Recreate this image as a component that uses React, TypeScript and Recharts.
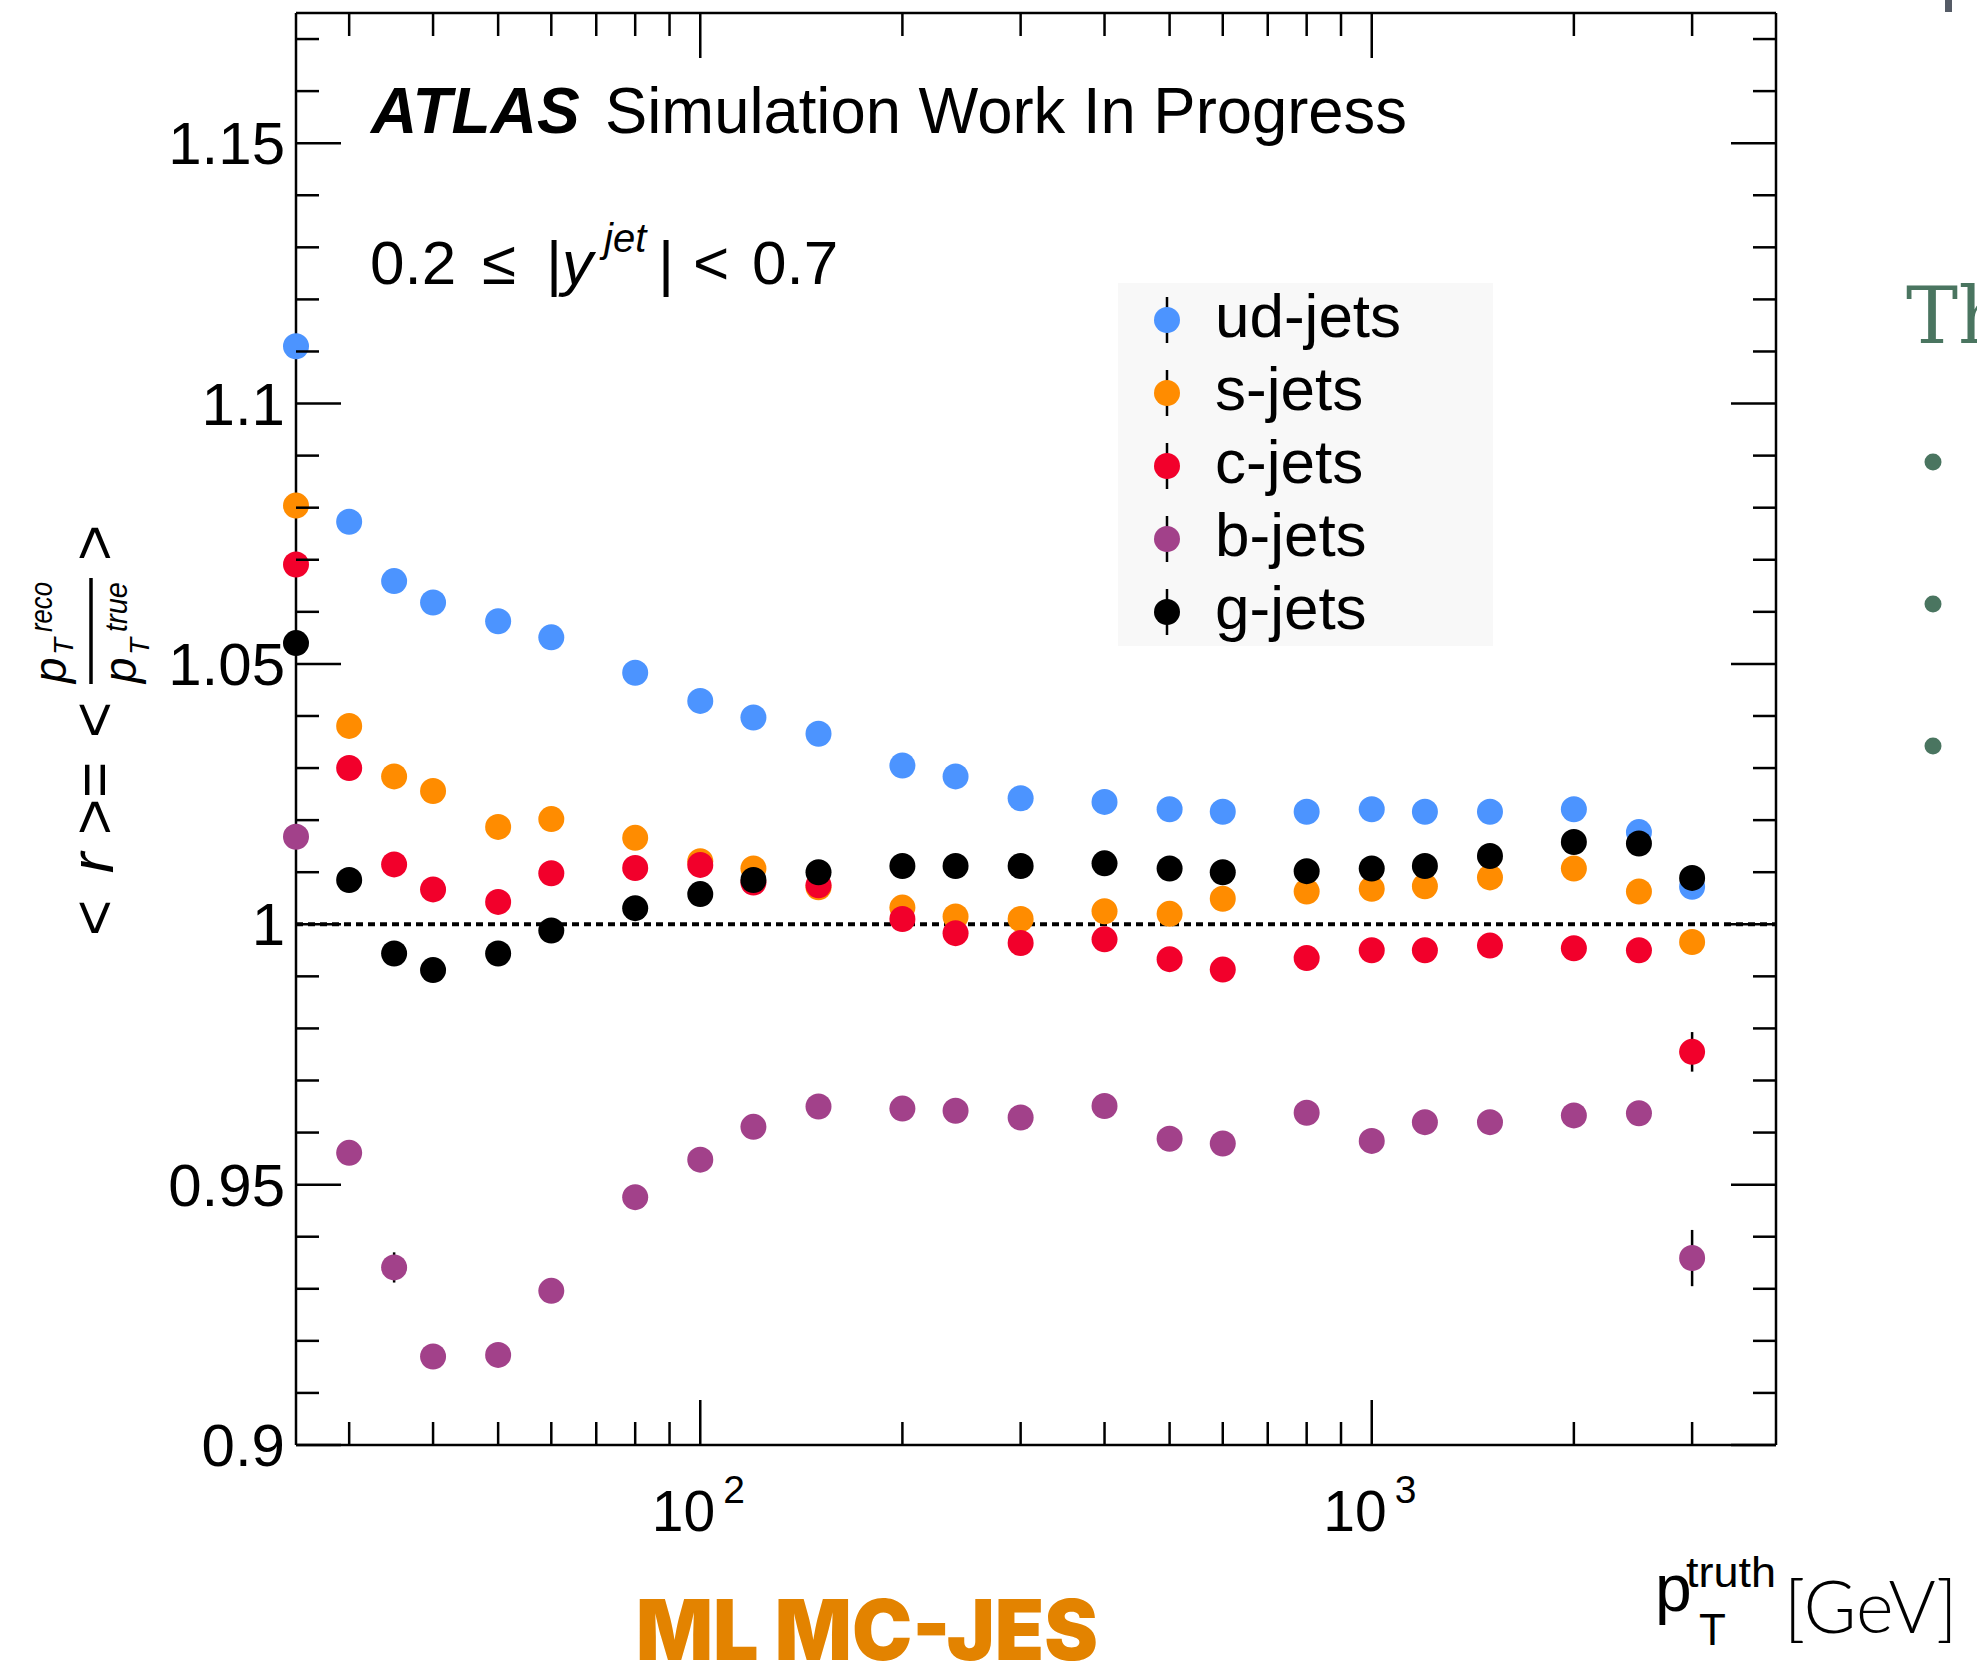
import React from 'react';
import { ScatterChart, Scatter, XAxis, YAxis, ReferenceLine, ErrorBar, Legend } from 'recharts';

// pT^truth bin centres [GeV]
const ptBins = [25, 30, 35, 40, 50, 60, 80, 100, 120, 150, 200, 240, 300, 400, 500, 600, 800, 1000, 1200, 1500, 2000, 2500, 3000];

// mean response <r> per jet flavour
const udJets = [1.111, 1.0773, 1.0659, 1.0618, 1.0582, 1.0551, 1.0483, 1.0429, 1.0397, 1.0366, 1.0305, 1.0284, 1.0242, 1.0235, 1.0221, 1.0216, 1.0216, 1.0221, 1.0216, 1.0216, 1.0221, 1.0177, 1.0072];
const sJets = [1.0804, 1.0381, 1.0284, 1.0256, 1.0187, 1.0202, 1.0166, 1.0121, 1.0107, 1.0071, 1.0032, 1.0015, 1.001, 1.0025, 1.002, 1.0049, 1.0063, 1.0068, 1.0073, 1.009, 1.0107, 1.0063, 0.9966];
const cJets = [1.0691, 1.03, 1.0115, 1.0067, 1.0043, 1.0098, 1.0108, 1.0114, 1.008, 1.0075, 1.001, 0.9983, 0.9964, 0.9971, 0.9933, 0.9913, 0.9935, 0.995, 0.995, 0.9959, 0.9954, 0.995, 0.9755];
const bJets = [1.0168, 0.9561, 0.9341, 0.917, 0.9173, 0.9296, 0.9476, 0.9548, 0.9611, 0.965, 0.9646, 0.9642, 0.9629, 0.9651, 0.9588, 0.9579, 0.9638, 0.9584, 0.962, 0.962, 0.9633, 0.9637, 0.9359];
const gJets = [1.054, 1.0085, 0.9944, 0.9912, 0.9944, 0.9988, 1.0031, 1.0058, 1.0085, 1.01, 1.0112, 1.0112, 1.0112, 1.0117, 1.0107, 1.01, 1.0102, 1.0107, 1.0112, 1.0131, 1.0158, 1.0155, 1.0089];

// statistical uncertainties
const udErr = [0.001, 0.0008, 0.0008, 0.0008, 0.0008, 0.0008, 0.0008, 0.0008, 0.0008, 0.0008, 0.0008, 0.0008, 0.0008, 0.0008, 0.0008, 0.0008, 0.0008, 0.0008, 0.0008, 0.001, 0.001, 0.0012, 0.002];
const sErr = [0.0015, 0.001, 0.001, 0.001, 0.001, 0.001, 0.001, 0.001, 0.001, 0.001, 0.001, 0.001, 0.001, 0.001, 0.001, 0.001, 0.001, 0.001, 0.001, 0.0012, 0.0012, 0.0015, 0.002];
const cErr = [0.0015, 0.001, 0.001, 0.001, 0.001, 0.001, 0.001, 0.001, 0.001, 0.001, 0.001, 0.001, 0.001, 0.001, 0.001, 0.001, 0.001, 0.001, 0.001, 0.0012, 0.0015, 0.002, 0.0038];
const bErr = [0.002, 0.0015, 0.0029, 0.0015, 0.0012, 0.0012, 0.001, 0.001, 0.001, 0.001, 0.001, 0.001, 0.001, 0.001, 0.001, 0.001, 0.001, 0.001, 0.0012, 0.0012, 0.0015, 0.002, 0.0054];
const gErr = [0.0015, 0.001, 0.001, 0.001, 0.001, 0.001, 0.001, 0.001, 0.001, 0.001, 0.001, 0.001, 0.001, 0.001, 0.001, 0.001, 0.001, 0.001, 0.001, 0.001, 0.0012, 0.0015, 0.002];

const jetNames = ['ud-jets', 's-jets', 'c-jets', 'b-jets', 'g-jets'];
const jetColors = ['#4c94ff', '#ff8c00', '#f2002b', '#a2418a', '#000000'];

const xMajorTicks = [100, 1000];
const xTicks = [30, 40, 50, 60, 70, 80, 90, 100, 200, 300, 400, 500, 600, 700, 800, 900, 1000, 2000, 3000];
const yMajorTicks = [0.9, 0.95, 1, 1.05, 1.1, 1.15];
const yTicks = [
  0.9, 0.91, 0.92, 0.93, 0.94, 0.95, 0.96, 0.97, 0.98, 0.99, 1, 1.01, 1.02, 1.03, 1.04,
  1.05, 1.06, 1.07, 1.08, 1.09, 1.1, 1.11, 1.12, 1.13, 1.14, 1.15, 1.16, 1.17,
];

const W = 1977;
const H = 1665;
const FONT = '"Liberation Sans", Arial, Helvetica, sans-serif';
const MAJOR = 45;
const MINOR = 23;
const axisStyle = { stroke: '#000', strokeWidth: 2.5 };

const series = [
  { name: jetNames[0], values: udJets, errors: udErr, color: jetColors[0] },
  { name: jetNames[1], values: sJets, errors: sErr, color: jetColors[1] },
  { name: jetNames[2], values: cJets, errors: cErr, color: jetColors[2] },
  { name: jetNames[3], values: bJets, errors: bErr, color: jetColors[3] },
  { name: jetNames[4], values: gJets, errors: gErr, color: jetColors[4] },
];

const toPoints = (values: number[], errors: number[]) =>
  ptBins.map((pt, i) => ({ x: pt, y: values[i], err: errors[i] }));

const isMajor = (v: number, list: number[]) => list.some((m) => Math.abs(m - v) < 1e-9);

// ROOT-style ticks: drawn inside the frame
function LeftTick(props: any) {
  const { x, y, payload } = props;
  const major = isMajor(payload.value, yMajorTicks);
  return (
    <g>
      <line x1={x} x2={x + (major ? MAJOR : MINOR)} y1={y} y2={y} stroke="#000" strokeWidth={2.5} />
      {major && (
        <text x={x - 11} y={y + 21} textAnchor="end" fontSize={60} fontFamily={FONT} fill="#000">
          {String(payload.value)}
        </text>
      )}
    </g>
  );
}

function RightTick(props: any) {
  const { x, y, payload } = props;
  const len = isMajor(payload.value, yMajorTicks) ? MAJOR : MINOR;
  return <line x1={x} x2={x - len} y1={y} y2={y} stroke="#000" strokeWidth={2.5} />;
}

function BottomTick(props: any) {
  const { x, y, payload } = props;
  const major = isMajor(payload.value, xMajorTicks);
  const exp = Math.round(Math.log10(payload.value));
  return (
    <g>
      <line x1={x} x2={x} y1={y} y2={y - (major ? MAJOR : MINOR)} stroke="#000" strokeWidth={2.5} />
      {major && (
        <g fontFamily={FONT} fill="#000">
          <text x={x + 15} y={y + 86} textAnchor="end" fontSize={57}>10</text>
          <text x={x + 23} y={y + 58} fontSize={39}>{exp}</text>
        </g>
      )}
    </g>
  );
}

function TopTick(props: any) {
  const { x, y, payload } = props;
  const len = isMajor(payload.value, xMajorTicks) ? MAJOR : MINOR;
  return <line x1={x} x2={x} y1={y} y2={y + len} stroke="#000" strokeWidth={2.5} />;
}

const renderDot = (props: any) => <circle cx={props.cx} cy={props.cy} r={13} fill={props.fill} />;
const renderNothing = () => <g />;

function JetLegend() {
  return (
    <div style={{ width: 375, height: 363, background: '#f8f8f8' }}>
      <svg width={375} height={363} style={{ overflow: 'visible', display: 'block' }}>
        {jetNames.map((name, i) => {
          const cy = 37 + i * 73;
          return (
            <g key={name}>
              <line x1={49} x2={49} y1={cy - 23} y2={cy + 23} stroke="#000" strokeWidth={2.5} />
              <circle cx={49} cy={cy} r={13} fill={jetColors[i]} />
              <text x={97} y={cy + 17} fontSize={62} fontFamily={FONT} fill="#000">{name}</text>
            </g>
          );
        })}
      </svg>
    </div>
  );
}

function Annotations() {
  return (
    <svg width={W} height={H} style={{ position: 'absolute', left: 0, top: 0, pointerEvents: 'none' }}>
      <g fontFamily={FONT} fill="#000">
        <text x={371} y={133} fontSize={64} fontWeight="bold" fontStyle="italic">ATLAS</text>
        <text x={605} y={133} fontSize={64} textLength={802} lengthAdjust="spacingAndGlyphs">Simulation Work In Progress</text>

        <text x={370} y={284} fontSize={62}>0.2</text>
        <text x={482} y={284} fontSize={62}>≤</text>
        <text x={546} y={284} fontSize={62}>|</text>
        <text x={562} y={284} fontSize={62} fontStyle="italic">y</text>
        <text x={604} y={252} fontSize={40} fontStyle="italic">jet</text>
        <text x={658} y={284} fontSize={62}>|</text>
        <text x={693} y={284} fontSize={62}>&lt;</text>
        <text x={752} y={284} fontSize={62}>0.7</text>

        {/* y-axis title, rotated */}
        <g transform="rotate(-90)">
          <text x={-918} y={115} fontSize={62} textAnchor="middle">&lt;</text>
          <text x={-863} y={113} fontSize={62} fontStyle="italic" textAnchor="middle">r</text>
          <text x={-817} y={115} fontSize={62} textAnchor="middle">&gt;</text>
          <text x={-780} y={115} fontSize={62} textAnchor="middle">=</text>
          <text x={-720} y={115} fontSize={62} textAnchor="middle">&lt;</text>
          <line x1={-684} x2={-578} y1={91} y2={91} stroke="#000" strokeWidth={3.5} />
          <text x={-683} y={66} fontSize={46} fontStyle="italic">p</text>
          <text x={-655} y={73} fontSize={28} fontStyle="italic">T</text>
          <text x={-632} y={52} fontSize={32} fontStyle="italic" textLength={50} lengthAdjust="spacingAndGlyphs">reco</text>
          <text x={-683} y={136} fontSize={46} fontStyle="italic">p</text>
          <text x={-655} y={149} fontSize={28} fontStyle="italic">T</text>
          <text x={-632} y={127} fontSize={32} fontStyle="italic" textLength={50} lengthAdjust="spacingAndGlyphs">true</text>
          <text x={-543} y={115} fontSize={62} textAnchor="middle">&gt;</text>
        </g>

        {/* x-axis title */}
        <text x={1655} y={1611} fontSize={66}>p</text>
        <text x={1686} y={1587} fontSize={42} textLength={90} lengthAdjust="spacingAndGlyphs">truth</text>
        <text x={1699} y={1645} fontSize={44}>T</text>
      </g>
      <text x={1784} y={1633} fontSize={72} fontFamily="Lato, 'Open Sans', sans-serif" fontWeight={300} fill="#000">[GeV]</text>

      <text x={636} y={1660} fontSize={84} fontFamily="Inter, 'Liberation Sans', sans-serif" fontWeight={900} fill="#e38300" textLength={462} lengthAdjust="spacingAndGlyphs">ML MC-JES</text>

      <rect x={1945} y={0} width={7} height={12} fill="#555b66" />
      <text x={1906} y={343} fontSize={78} fontFamily="'DejaVu Serif', serif" fill="#4a7560">Th</text>
      <circle cx={1933} cy={462} r={8.5} fill="#4a7560" />
      <circle cx={1933} cy={604} r={8.5} fill="#4a7560" />
      <circle cx={1933} cy={746} r={8.5} fill="#4a7560" />
    </svg>
  );
}

export default function App() {
  return (
    <div style={{ position: 'absolute', left: 0, top: 0, width: W, height: H, background: '#fff' }}>
      <ScatterChart width={W} height={H} margin={{ top: 12, right: 200, bottom: 219, left: 295 }}>
        <XAxis
          xAxisId="bottom"
          dataKey="x"
          type="number"
          scale="log"
          domain={[25, 4000]}
          ticks={xTicks}
          interval={0}
          height={1}
          tickSize={0}
          tickMargin={0}
          tickLine={false}
          axisLine={axisStyle}
          tick={(p: any) => <BottomTick {...p} />}
        />
        <XAxis
          xAxisId="top"
          orientation="top"
          dataKey="x"
          type="number"
          scale="log"
          domain={[25, 4000]}
          ticks={xTicks}
          interval={0}
          height={1}
          tickSize={0}
          tickMargin={0}
          tickLine={false}
          axisLine={axisStyle}
          tick={(p: any) => <TopTick {...p} />}
        />
        <YAxis
          yAxisId="left"
          dataKey="y"
          type="number"
          domain={[0.9, 1.175]}
          ticks={yTicks}
          interval={0}
          width={1}
          tickSize={0}
          tickMargin={0}
          tickLine={false}
          axisLine={axisStyle}
          tick={(p: any) => <LeftTick {...p} />}
        />
        <YAxis
          yAxisId="right"
          orientation="right"
          dataKey="y"
          type="number"
          domain={[0.9, 1.175]}
          ticks={yTicks}
          interval={0}
          width={1}
          tickSize={0}
          tickMargin={0}
          tickLine={false}
          axisLine={axisStyle}
          tick={(p: any) => <RightTick {...p} />}
        />
        <ReferenceLine xAxisId="bottom" yAxisId="left" y={1} stroke="#000" strokeWidth={4} strokeDasharray="7 5" />
        {/* invisible series so the mirrored top/right axes get their ticks */}
        <Scatter
          name="frame"
          xAxisId="top"
          yAxisId="right"
          data={toPoints(udJets, udErr)}
          shape={renderNothing}
          legendType="none"
          isAnimationActive={false}
        />
        {series.map((s) => (
          <Scatter
            key={s.name}
            name={s.name}
            xAxisId="bottom"
            yAxisId="left"
            data={toPoints(s.values, s.errors)}
            fill={s.color}
            shape={renderDot}
            isAnimationActive={false}
          >
            <ErrorBar dataKey="err" direction="y" width={0} stroke="#000" strokeWidth={2.5} />
          </Scatter>
        ))}
        <Legend
          layout="vertical"
          verticalAlign="middle"
          align="center"
          wrapperStyle={{ left: 1118, top: 283, width: 375, height: 363 }}
          content={() => <JetLegend />}
        />
      </ScatterChart>
      <Annotations />
    </div>
  );
}
